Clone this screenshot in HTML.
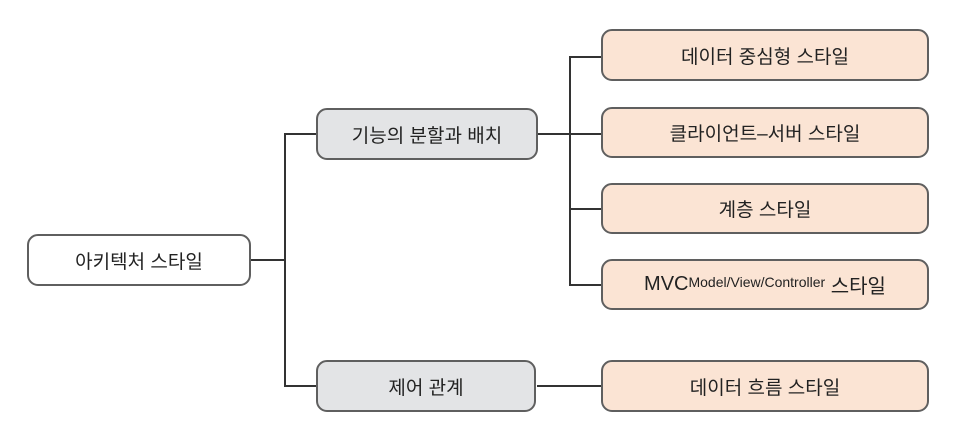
<!DOCTYPE html>
<html><head><meta charset="utf-8"><style>
body{margin:0;background:#fff;width:980px;height:432px;position:relative;overflow:hidden;font-family:"Liberation Sans","Noto Sans CJK KR",sans-serif;color:#222}
.b{position:absolute;box-sizing:border-box;border:2.5px solid #5f5f5f;border-radius:11px;display:flex;align-items:center;justify-content:center;font-size:19px}
.g{background:#e3e4e6}.p{background:#fbe4d4}.w{background:#fff}
.l{position:absolute;background:#333}
sup{font-size:14px;position:relative;top:-3px}
</style></head><body>
<div class="l" style="left:250px;top:259px;width:35px;height:1.5px"></div>
<div class="l" style="left:284px;top:133px;width:1.5px;height:253px"></div>
<div class="l" style="left:284px;top:133px;width:34px;height:1.5px"></div>
<div class="l" style="left:284px;top:385px;width:34px;height:1.5px"></div>
<div class="l" style="left:537px;top:133px;width:66px;height:1.5px"></div>
<div class="l" style="left:537px;top:385px;width:66px;height:1.5px"></div>
<div class="l" style="left:569px;top:56px;width:1.5px;height:229px"></div>
<div class="l" style="left:569px;top:56px;width:34px;height:1.5px"></div>
<div class="l" style="left:569px;top:208px;width:34px;height:1.5px"></div>
<div class="l" style="left:569px;top:284px;width:34px;height:1.5px"></div>
<div class="b w" style="left:27px;top:234px;width:224px;height:52px">아키텍처 스타일</div>
<div class="b g" style="left:316px;top:108px;width:222px;height:52px">기능의 분할과 배치</div>
<div class="b g" style="left:316px;top:360px;width:220px;height:52px">제어 관계</div>
<div class="b p" style="left:601px;top:29px;width:328px;height:52px">데이터 중심형 스타일</div>
<div class="b p" style="left:601px;top:107px;width:328px;height:51px">클라이언트–서버 스타일</div>
<div class="b p" style="left:601px;top:183px;width:328px;height:51px">계층 스타일</div>
<div class="b p" style="left:601px;top:259px;width:328px;height:51px;font-size:20px">MVC<sup>Model/View/Controller</sup>&nbsp;스타일</div>
<div class="b p" style="left:601px;top:360px;width:328px;height:52px">데이터 흐름 스타일</div>
</body></html>
